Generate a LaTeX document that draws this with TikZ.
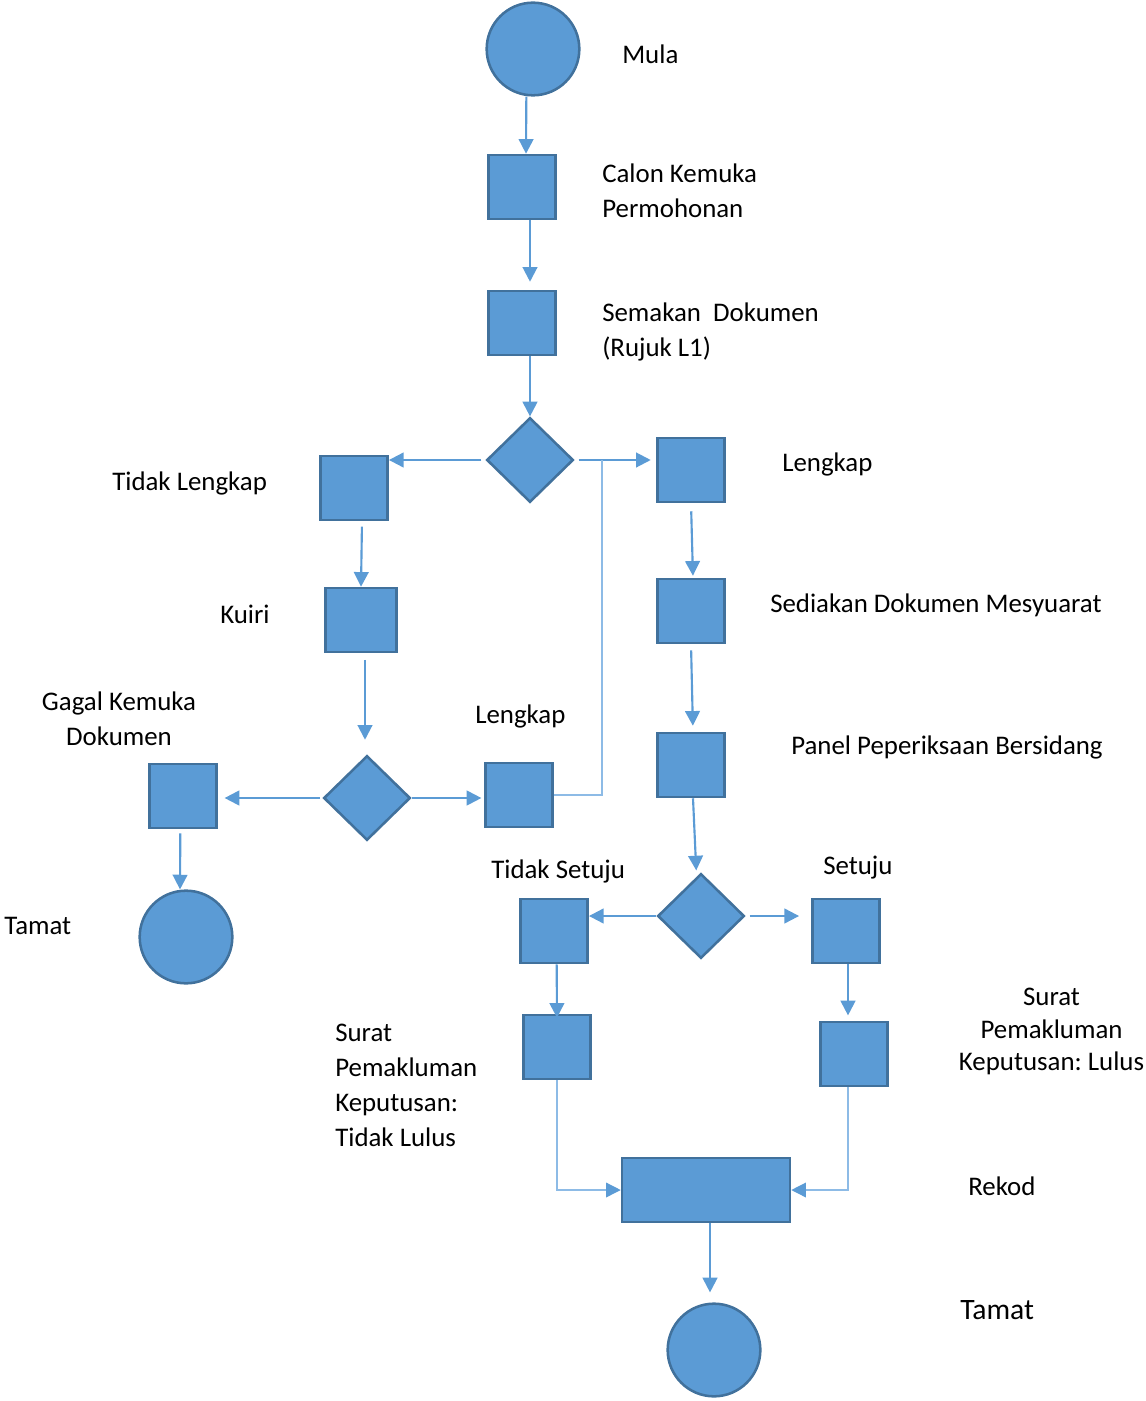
\documentclass[tikz,border=0pt]{standalone}
\usepackage{fontspec}
\setmainfont{Carlito}
\usetikzlibrary{shapes.geometric,arrows.meta}
\definecolor{bfill}{HTML}{5B9BD5}
\definecolor{bline}{HTML}{41719C}
\definecolor{thinl}{HTML}{8DBBE6}
\frenchspacing
\begin{document}
\begin{tikzpicture}[x=0.75pt,y=-0.75pt,
  box/.style={draw=bline, fill=bfill, line width=1.9pt, inner sep=0, minimum width=50.5pt, minimum height=48pt},
  dia/.style={diamond, draw=bline, fill=bfill, line width=1.9pt, inner sep=0, minimum width=65pt, minimum height=63.5pt},
  term/.style={circle, draw=bline, fill=bfill, line width=1.9pt, inner sep=0, minimum size=69.5pt},
  arr/.style={draw=bfill, line width=1.6pt, -{Triangle[length=11pt,width=11pt]}},
  thinline/.style={draw=thinl, line width=1pt},
  thinarr/.style={thinline, -{Triangle[length=11pt,width=11pt,color=bfill]}},
  lbl/.style={font=\fontsize{20.15pt}{26.25pt}\selectfont, inner sep=0, anchor=west, align=left}]
\useasboundingbox (0,0) rectangle (1145,1401);

% nodes
\node[term] (start) at (533,49) {};
\node[box] (box1) at (522,187) {};
\node[box] (box2) at (522,323) {};
\node[dia] (d1) at (530,460) {};
\node[box] (tl) at (354,488) {};
\node[box] (lk) at (691,470) {};
\node[box, minimum width=53.5pt] (kuiri) at (361,620) {};
\node[dia] (d2) at (367,798) {};
\node[box] (gagal) at (183,796) {};
\node[box] (lk2) at (519,795) {};
\node[term] (end1) at (186,937) {};
\node[box] (sed) at (691,611) {};
\node[box] (panel) at (691,765) {};
\node[dia] (d3) at (701,916) {};
\node[box] (ts) at (554,931) {};
\node[box] (se) at (846,931) {};
\node[box] (sl) at (557,1047) {};
\node[box] (sr) at (854,1054) {};
\node[box, minimum width=126pt] (rekod) at (706,1190) {};
\node[term] (end2) at (714,1350) {};
\coordinate (j1) at (602,460);

% labels
\node[lbl] (tMula) at (622,54) {Mula};
\node[lbl] (tCalon) at (602,190.5) {Calon Kemuka\\Permohonan};
\node[lbl] (tSemak) at (602,331.5) {Semakan\ \ Dokumen\\(Rujuk L1)};
\node[lbl] (tTL) at (112,483) {Tidak Lengkap};
\node[lbl] (tLk) at (782,464) {Lengkap};
\node[lbl] (tKuiri) at (220,614) {Kuiri};
\node[lbl] (tSed) at (770,605) {Sediakan Dokumen Mesyuarat};
\node[lbl, anchor=center, align=center] (tGagal) at (119,718.5) {Gagal Kemuka\\Dokumen};
\node[lbl] (tLk2) at (475,716) {Lengkap};
\node[lbl] (tPanel) at (791,747) {Panel Peperiksaan Bersidang};
\node[lbl] (tTS) at (491,871) {Tidak Setuju};
\node[lbl] (tSe) at (823,868) {Setuju};
\node[lbl] (tTamat1) at (4,926) {Tamat};
\node[lbl] (tSL) at (335,1085.5) {Surat\\Pemakluman\\Keputusan:\\Tidak Lulus};
\node[lbl, anchor=center, align=center, font=\fontsize{20.15pt}{24.4pt}\selectfont] (tSR) at (1051.5,1031.5) {Surat\\Pemakluman\\Keputusan: Lulus};
\node[lbl] (tRekod) at (968,1186) {Rekod};
\node[lbl, font=\fontsize{22.2pt}{26pt}\selectfont] (tTamat2) at (960,1310) {Tamat};

% connectors
\draw[arr] ([xshift=-5pt]start.south) -- ([xshift=3pt]box1.north);
\draw[arr,shorten >=6pt] ([xshift=6pt]box1.south) -- ([xshift=6pt]box2.north);
\draw[arr] (box2.south -| d1.north) -- (d1.north);
\draw[arr,shorten <=3pt] (d1.west) -- (d1.west -| tl.east);
\draw[arr,shorten <=3pt,shorten >=4pt] (d1.east) -- (d1.east -| lk.west);
\draw[thinline] (lk2.east) -- (lk2.east -| j1) -- (j1);
\draw[arr,shorten <=4pt] ([xshift=6pt]tl.south) -- (kuiri.north);
\draw[arr,shorten <=5pt,shorten >=11pt] ([xshift=3pt]kuiri.south) -- ([xshift=-1.5pt]d2.north);
\draw[arr,shorten <=2pt,shorten >=5pt] (d2.west) -- (d2.west -| gagal.east);
\draw[arr,shorten >=2pt] (d2.east) -- (d2.east -| lk2.west);
\draw[arr,shorten <=3pt] ([xshift=-2pt]gagal.south) -- ([xshift=-4.5pt]end1.north);
\draw[arr,shorten <=6pt,shorten >=1.5pt] (lk.south) -- ([xshift=1.5pt]sed.north);
\draw[arr,shorten <=4.5pt,shorten >=4.5pt] (sed.south) -- ([xshift=1.5pt]panel.north);
\draw[arr,shorten >=1.5pt] ([xshift=1.5pt]panel.south) -- ([xshift=-3.5pt]d3.north);
\draw[arr] (d3.west) -- (d3.west -| ts.east);
\draw[arr,shorten <=3pt,shorten >=9pt] (d3.east) -- (d3.east -| se.west);
\draw[arr] ([xshift=2pt]ts.south) -- ([yshift=-3pt]sl.north);
\draw[arr,shorten >=4pt] ([xshift=1.5pt]se.south) -- ([xshift=-4.5pt]sr.north);
\draw[thinarr] (sl.south) |- (rekod.west);
\draw[thinarr] ([xshift=-4.5pt]sr.south) |- (rekod.east);
\draw[arr,shorten >=7.5pt] ([xshift=3pt]rekod.south) -- ([xshift=-3pt]end2.north);
\end{tikzpicture}
\end{document}
